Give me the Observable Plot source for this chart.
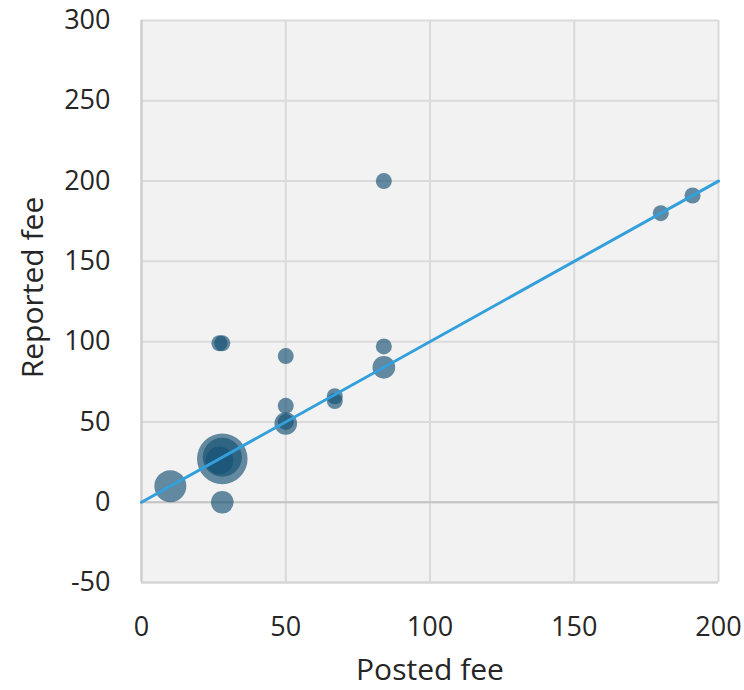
<!DOCTYPE html>
<html>
<head>
<meta charset="utf-8">
<script src="https://cdn.jsdelivr.net/npm/d3@7"></script>
<script src="https://cdn.jsdelivr.net/npm/@observablehq/plot@0.6"></script>
<style>
  html, body { margin: 0; padding: 0; background: #ffffff; }
  #chart { width: 744px; height: 690px; }
  svg { font-family: "Open Sans", sans-serif; }
</style>
</head>
<body>
<div id="chart"></div>
<script>
// Posted fee (x), reported fee (y), number of respondents (bubble size)
const posted   = [10, 28, 28, 28, 27, 27, 28, 50, 50, 50, 50, 67, 67, 84, 84, 84, 180, 191];
const reported = [10,  0, 27, 28, 26, 99, 99, 91, 60, 50, 49, 66, 63, 97, 84, 200, 180, 191];
const counts   = [ 4,  2, 10,  6,  3,  1,  1,  1,  1,  1,  2,  1,  1,  1,  2,  1,  1,  1];

const xTicks = [0, 50, 100, 150, 200];
const yTicks = [-50, 0, 50, 100, 150, 200, 250, 300];
const fitLine = [0, 200];
const xLabel = "Posted fee";
const yLabel = "Reported fee";

const points = posted.map((p, i) => ({posted: p, reported: reported[i], n: counts[i]}));
const line = fitLine.map(v => ({x: v, y: v}));

const chart = Plot.plot({
  width: 744,
  height: 690,
  marginLeft: 141,
  marginRight: 26,
  marginTop: 20,
  marginBottom: 108,
  style: {fontFamily: "'Open Sans', sans-serif", fontSize: "27px", color: "#262626", background: "#ffffff"},
  x: {domain: [0, 200], ticks: xTicks, tickSize: 0, tickPadding: 34, label: null, tickFormat: d => String(d)},
  y: {domain: [-50, 300], ticks: yTicks, tickSize: 0, tickPadding: 31, label: null, tickFormat: d => String(d)},
  r: {domain: [0, 1], range: [0, 8]},
  marks: [
    Plot.frame({fill: "#f2f2f2", stroke: null}),
    Plot.ruleX(xTicks, {stroke: "#dadada", strokeWidth: 2}),
    Plot.ruleY(yTicks, {stroke: "#dadada", strokeWidth: 2}),
    Plot.ruleY([0], {stroke: "#c4c4c4", strokeWidth: 2}),
    Plot.ruleX([0], {stroke: "#cccccc", strokeWidth: 2}),
    Plot.ruleY([-50], {stroke: "#d4d4d4", strokeWidth: 2}),
    Plot.dot(points, {x: "posted", y: "reported", r: "n", fill: "#145073", fillOpacity: 0.65, stroke: null}),
    Plot.line(line, {x: "x", y: "y", stroke: "#33a0dc", strokeWidth: 3}),
    Plot.text([xLabel], {frameAnchor: "bottom", dy: 88, text: d => d, fontSize: 30, fill: "#262626", lineAnchor: "middle", textAnchor: "middle"}),
    Plot.text([yLabel], {frameAnchor: "left", dx: -108, dy: -14, rotate: -90, text: d => d, fontSize: 30, fill: "#262626", lineAnchor: "middle", textAnchor: "middle"})
  ]
});
document.getElementById("chart").appendChild(chart);
</script>
</body>
</html>
